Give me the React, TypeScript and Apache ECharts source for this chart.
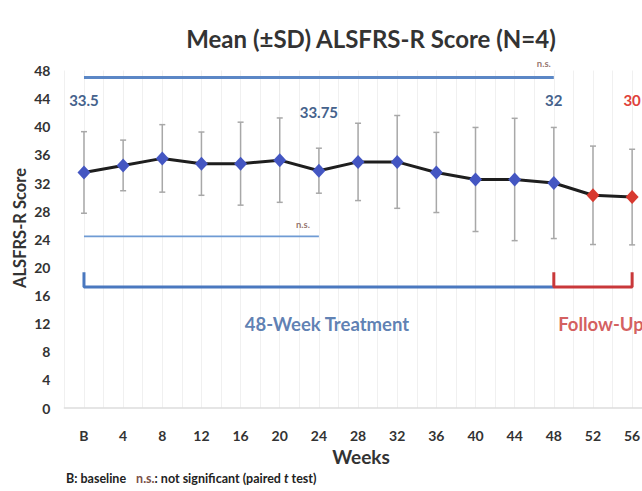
import React, { useEffect, useRef } from "react";
import * as echarts from "echarts";

// Visits (B = baseline, then weeks)
const weekLabels = ["B", "4", "8", "12", "16", "20", "24", "28", "32", "36", "40", "44", "48", "52", "56"];
// Mean ALSFRS-R score at each visit
const meanScores = [33.5, 34.5, 35.5, 34.75, 34.75, 35.25, 33.75, 35, 35, 33.5, 32.5, 32.5, 32, 30.25, 30];
// Standard deviation at each visit
const sdScores = [5.8, 3.6, 4.8, 4.5, 5.9, 6.0, 3.2, 5.5, 6.6, 5.7, 7.4, 8.7, 7.9, 7.0, 6.8];
// First follow-up visit (week 52)
const followUpFrom = 13;
// Visits whose mean is written above the marker
const calloutVisits = [0, 6, 12, 14];

// Paired comparisons that were not significant: from visit, to visit, drawn at score level
const nsFromVisit = [0, 0];
const nsToVisit = [12, 6];
const nsLevel = [47, 24.4];

// Study-phase brackets
const treatmentSpan = [0, 12];
const followUpSpan = [12, 14];
const bracketBase = 17.2;
const bracketTip = 19.3;

const FONT = "Lato, 'Open Sans', 'DejaVu Sans', sans-serif";
const BLUE_MARK = "#4456c2";
const RED_MARK = "#d8392f";
const CALLOUT_BLUE = "#45628c";
const PHASE_BLUE = "#4a78bf";
const PHASE_RED = "#c9383a";
const NS_COLOR = "#7b5148";

// The plot runs a little past the right edge of the visible frame
const CANVAS_W = 662;
const VIEW_W = 642;
const VIEW_H = 491;

// vertical gap (px) between marker and its value callout
const calloutGap: Record<number, number> = { 0: 58, 6: 44, 12: 69, 14: 83 };

export default function App() {
  const ref = useRef<HTMLDivElement>(null);

  useEffect(() => {
    if (!ref.current) return;
    const chart = echarts.init(ref.current, undefined, { renderer: "svg" });

    const meanData = meanScores.map((m, i) => {
      const isFollow = i >= followUpFrom;
      const item: any = {
        value: [i, m],
        itemStyle: { color: isFollow ? RED_MARK : BLUE_MARK },
      };
      if (calloutVisits.includes(i)) {
        item.label = {
          show: true,
          position: "top",
          distance: calloutGap[i],
          formatter: (p: any) => String(p.value[1]),
          color: isFollow ? "#e0413a" : CALLOUT_BLUE,
          fontFamily: FONT,
          fontWeight: "bold",
          fontSize: 15,
        };
      }
      return item;
    });

    const nsLines = nsFromVisit.map((from, k) => ({
      type: "line",
      silent: true,
      symbol: "none",
      z: 1,
      lineStyle: { color: k === 0 ? "#5b87c6" : "#6f9bd4", width: k === 0 ? 3 : 1.8 },
      data: [
        [from, nsLevel[k]],
        [nsToVisit[k], nsLevel[k]],
      ],
    }));

    const treatmentMid = (treatmentSpan[0] + treatmentSpan[1]) / 2;
    const followMid = (followUpSpan[0] + followUpSpan[1]) / 2;

    const nsText = (k: number, offset: number[]) => ({
      value: [nsToVisit[k], nsLevel[k]],
      label: {
        show: true,
        position: "top",
        formatter: "n.s.",
        offset,
        color: NS_COLOR,
        fontFamily: FONT,
        fontWeight: "bold",
        fontSize: 9.5,
      },
    });

    const phaseText = (x: number, text: string, color: string, dx: number) => ({
      value: [x, bracketBase],
      label: {
        show: true,
        position: "bottom",
        distance: 27,
        offset: [dx, 0],
        formatter: text,
        color,
        fontFamily: FONT,
        fontWeight: "bold",
        fontSize: 18.5,
      },
    });

    const option: any = {
      animation: false,
      backgroundColor: "#ffffff",
      title: {
        text: "Mean (\u00B1SD) ALSFRS-R Score (N=4)",
        left: 366,
        top: 21,
        textAlign: "center",
        textStyle: { fontFamily: FONT, fontWeight: "bold", fontSize: 24, color: "#333333" },
      },
      grid: { left: 64.4, right: CANVAS_W - 651.7, top: 70.5, bottom: 83, containLabel: false },
      xAxis: {
        type: "value",
        min: -0.5,
        max: 14.5,
        interval: 0.5,
        axisLine: { show: true, lineStyle: { color: "#dddddd", width: 1.5 } },
        axisTick: { show: false },
        splitLine: { show: true, lineStyle: { color: "#f0f0f0", width: 1 } },
        axisLabel: {
          margin: 20,
          fontFamily: FONT,
          fontWeight: "bold",
          fontSize: 14,
          color: "#333333",
          showMinLabel: true,
          showMaxLabel: true,
          formatter: (v: number) => (Number.isInteger(v) && v >= 0 ? weekLabels[v] ?? "" : ""),
        },
      },
      yAxis: {
        type: "value",
        min: 0,
        max: 48,
        interval: 4,
        axisLine: { show: false },
        axisTick: { show: false },
        splitLine: { show: false },
        axisLabel: { margin: 14, fontFamily: FONT, fontWeight: "bold", fontSize: 14, color: "#333333" },
      },
      graphic: [
        {
          type: "text",
          x: 20,
          y: 228,
          rotation: Math.PI / 2,
          style: {
            text: "ALSFRS-R Score",
            align: "center",
            verticalAlign: "middle",
            fontFamily: FONT,
            fontWeight: "bold",
            fontSize: 16.5,
            fill: "#333333",
          },
        },
        {
          type: "text",
          x: 361,
          y: 456,
          style: {
            text: "Weeks",
            align: "center",
            verticalAlign: "middle",
            fontFamily: FONT,
            fontWeight: "bold",
            fontSize: 19,
            fill: "#333333",
          },
        },
        {
          type: "text",
          x: 66,
          y: 478,
          style: {
            text: "{b|B: baseline}   {ns|n.s.}{b|: not significant (paired }{i|t}{b| test)}",
            verticalAlign: "middle",
            rich: {
              b: { fontFamily: FONT, fontWeight: "bold", fontSize: 12.5, fill: "#222222" },
              ns: { fontFamily: FONT, fontWeight: "bold", fontSize: 12.5, fill: NS_COLOR },
              i: { fontFamily: FONT, fontWeight: "bold", fontStyle: "italic", fontSize: 12.5, fill: "#222222" },
            },
          },
        },
      ],
      series: [
        {
          type: "custom",
          silent: true,
          z: 2,
          data: meanScores.map((m, i) => [i, m, sdScores[i]]),
          renderItem: (_params: any, api: any) => {
            const x = api.value(0);
            const m = api.value(1);
            const s = api.value(2);
            const hi = api.coord([x, m + s]);
            const lo = api.coord([x, m - s]);
            const style = { stroke: "#a8a8a8", lineWidth: 1.5 };
            return {
              type: "group",
              children: [
                { type: "line", shape: { x1: hi[0], y1: hi[1], x2: lo[0], y2: lo[1] }, style },
                { type: "line", shape: { x1: hi[0] - 3, y1: hi[1], x2: hi[0] + 3, y2: hi[1] }, style },
                { type: "line", shape: { x1: lo[0] - 3, y1: lo[1], x2: lo[0] + 3, y2: lo[1] }, style },
              ],
            };
          },
        },
        {
          type: "line",
          z: 3,
          symbol: "diamond",
          symbolSize: [13, 14],
          lineStyle: { color: "#1e1e1e", width: 3 },
          data: meanData,
        },
        ...nsLines,
        {
          type: "line",
          silent: true,
          symbol: "none",
          z: 1,
          lineStyle: { color: PHASE_BLUE, width: 3 },
          data: [
            [treatmentSpan[0], bracketTip],
            [treatmentSpan[0], bracketBase],
            [treatmentSpan[1], bracketBase],
          ],
        },
        {
          type: "line",
          silent: true,
          symbol: "none",
          z: 1,
          lineStyle: { color: PHASE_RED, width: 3 },
          data: [
            [followUpSpan[0], bracketTip],
            [followUpSpan[0], bracketBase],
            [followUpSpan[1], bracketBase],
            [followUpSpan[1], bracketTip],
          ],
        },
        {
          // annotation texts anchored to the comparison lines and phase brackets
          type: "scatter",
          silent: true,
          symbolSize: 0,
          z: 4,
          itemStyle: { color: "transparent" },
          data: [
            nsText(0, [-10, -4]),
            nsText(1, [-16, -2]),
            phaseText(treatmentMid, "48-Week Treatment", "#35609f", 8),
            phaseText(followMid, "Follow-Up", "#c93535", 8),
          ],
        },
      ],
    };

    chart.setOption(option);
    return () => chart.dispose();
  }, []);

  return (
    <div
      style={{
        position: "fixed",
        left: 0,
        top: 0,
        width: VIEW_W,
        height: VIEW_H,
        overflow: "hidden",
        background: "#fff",
      }}
    >
      <div ref={ref} style={{ width: CANVAS_W, height: VIEW_H }} />
    </div>
  );
}
